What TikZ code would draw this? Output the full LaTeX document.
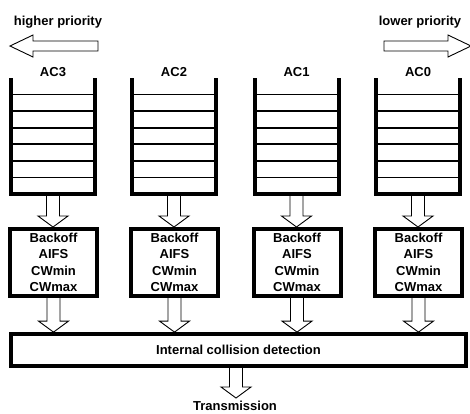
\documentclass[tikz,border=0pt]{standalone}
\usepackage{fontspec}
\setmainfont{Liberation Sans}
\usetikzlibrary{calc,backgrounds}
\begin{document}
\begin{tikzpicture}[x=1pt,y=-1pt,
  lbl/.style={font=\fontsize{13}{16.5}\selectfont\bfseries, inner sep=0pt},
  queue/.style={minimum width=84pt, minimum height=116pt, inner sep=0pt, outer sep=0pt},
  wall/.style={line width=4pt},
  slot/.style={line width=1.8pt},
  parbox/.style={draw, line width=4pt, minimum width=87pt, minimum height=67pt, inner sep=0pt, align=center, font=\fontsize{13}{16.5}\selectfont\bfseries},
  collbox/.style={draw, line width=3.8pt, minimum width=455pt, minimum height=32pt, inner sep=0pt, font=\fontsize{13}{16.5}\selectfont\bfseries},
  hollow/.style={draw, line width=0.9pt, fill=white},
  downarrow/.style={to path={let \p1=(\tikztostart),\p2=(\tikztotarget) in
    (\x1-6.5pt,\y1) -- (\x1-6.5pt,\y2+11pt) -- (\x1-15pt,\y2+11pt) -- (\x1,\y2) --
    (\x1+15pt,\y2+11pt) -- (\x1+6.5pt,\y2+11pt) -- (\x1+6.5pt,\y1) -- cycle}},
  leftarrow/.style={to path={let \p1=(\tikztostart),\p2=(\tikztotarget) in
    (\x1,\y1+5pt) -- (\x2+23pt,\y1+5pt) -- (\x2+23pt,\y1+11pt) -- (\x2,\y1) --
    (\x2+23pt,\y1-11pt) -- (\x2+23pt,\y1-5pt) -- (\x1,\y1-5pt) -- cycle}},
  rightarrow/.style={to path={let \p1=(\tikztostart),\p2=(\tikztotarget) in
    (\x1,\y1+5pt) -- (\x2-23pt,\y1+5pt) -- (\x2-23pt,\y1+11pt) -- (\x2,\y1) --
    (\x2-23pt,\y1-11pt) -- (\x2-23pt,\y1-5pt) -- (\x1,\y1-5pt) -- cycle}}
]
\useasboundingbox (0,0) rectangle (470,413);

% priority labels and arrows
\node[lbl, anchor=base] (hp) at (58,25.5) {higher priority};
\node[lbl, anchor=base] (lp) at (420,25.5) {lower priority};
\coordinate (hpTail) at (98,46);
\coordinate (hpTip) at (10,46);
\coordinate (lpTail) at (384,46);
\coordinate (lpTip) at (471,46);
\draw[hollow] (hpTail) to[leftarrow] (hpTip);
\draw[hollow] (lpTail) to[rightarrow] (lpTip);

% columns
\foreach \c/\cx in {3/53,2/174,1/296.5,0/418}{
  \node[lbl, anchor=base] (ac\c) at (\cx,76) {AC\c};
  \node[queue] (q\c) at (\cx,136) {};
  \foreach \k in {1,...,6}
    \draw[slot] ($(q\c.north west)!\k/7!(q\c.south west)$) -- ($(q\c.north east)!\k/7!(q\c.south east)$);
  \draw[wall] (q\c.north west) -- (q\c.south west) -- (q\c.south east) -- (q\c.north east);
  \node[parbox] (b\c) at (\cx+0.5,262.5) {Backoff\\AIFS\\CWmin\\CWmax};
}

\node[collbox] (coll) at (238.5,350) {Internal collision detection};
\node[lbl, anchor=base] (tr) at (235,410.5) {Transmission};
\coordinate (txTip) at (236,398);

\begin{scope}[on background layer]
\foreach \c in {3,2,1,0}{
  \coordinate (qs\c) at (q\c.south);
  \coordinate (bt\c) at (b\c.north -| q\c.south);
  \coordinate (bs\c) at ($(b\c.south)+(0,-2)$);
  \coordinate (ct\c) at (b\c.south |- coll.north);
  \draw[hollow] (qs\c) to[downarrow] (bt\c);
  \draw[hollow] (bs\c) to[downarrow] (ct\c);
}
\coordinate (txTail) at ($(coll.south -| txTip)+(0,-2)$);
\draw[hollow] (txTail) to[downarrow] (txTip);
\end{scope}
\end{tikzpicture}
\end{document}
